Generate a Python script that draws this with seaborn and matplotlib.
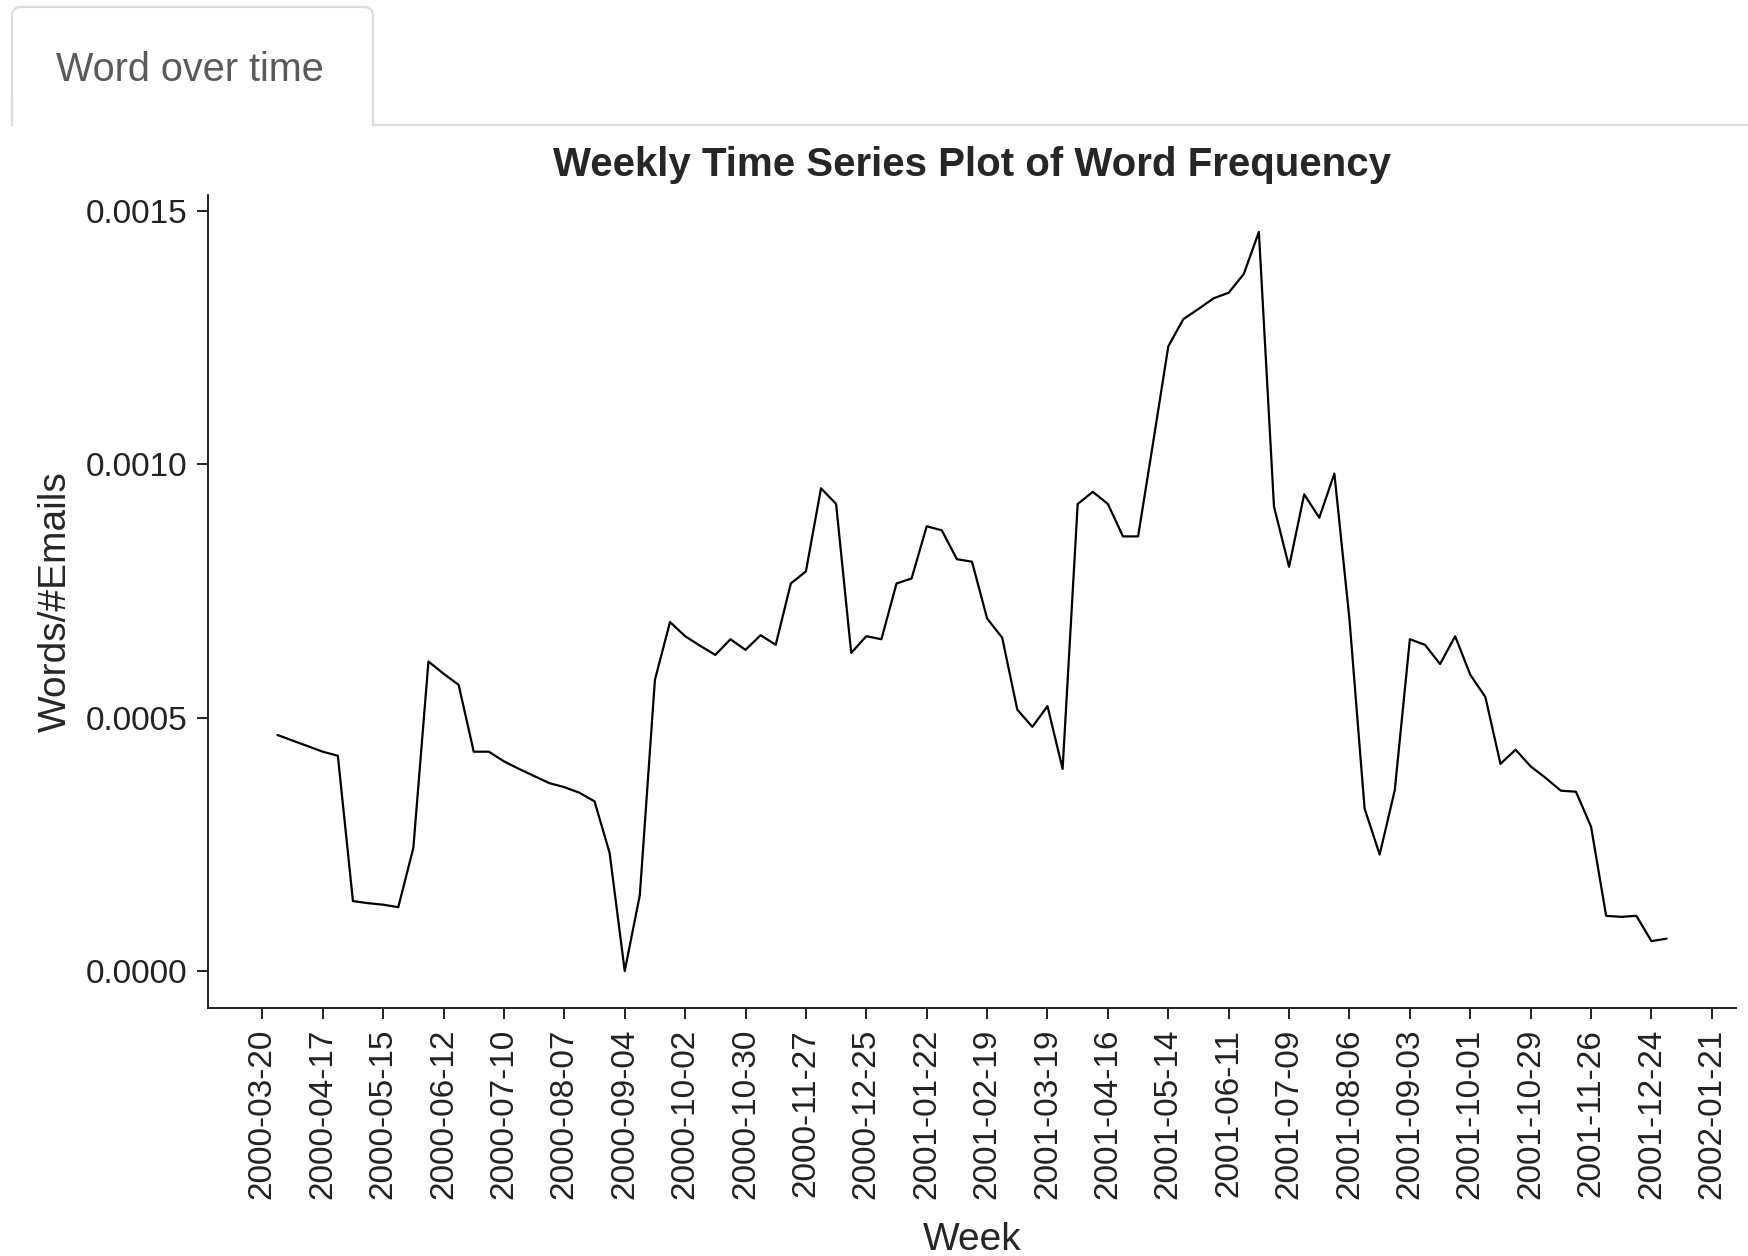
import pandas as pd
import matplotlib
matplotlib.use("Agg")
import matplotlib.pyplot as plt
import matplotlib.ticker as mticker
import matplotlib.patches as mpatches
import matplotlib.lines as mlines
from matplotlib.transforms import IdentityTransform
import seaborn as sns

# weekly word frequency, first week starting 2000-03-27
first_week = "2000-03-27"
freq = [
    0.000466, 0.000455, 0.000444, 0.000433, 0.000425, 0.000138, 0.000134, 0.000131,
    0.000126, 0.000243, 0.000611, 0.000587, 0.000565, 0.000433, 0.000433, 0.000414,
    0.000399, 0.000385, 0.000371, 0.000363, 0.000352, 0.000335, 0.000233, 0.000000,
    0.000150, 0.000575, 0.000689, 0.000661, 0.000642, 0.000624, 0.000655, 0.000634,
    0.000663, 0.000644, 0.000765, 0.000789, 0.000953, 0.000922, 0.000628, 0.000661,
    0.000655, 0.000765, 0.000775, 0.000878, 0.000870, 0.000813, 0.000808, 0.000696,
    0.000658, 0.000516, 0.000482, 0.000523, 0.000399, 0.000922, 0.000946, 0.000922,
    0.000858, 0.000858, 0.001044, 0.001233, 0.001287, 0.001307, 0.001328, 0.001339,
    0.001376, 0.001459, 0.000917, 0.000798, 0.000941, 0.000895, 0.000982, 0.000694,
    0.000321, 0.000230, 0.000357, 0.000655, 0.000644, 0.000606, 0.000661, 0.000585,
    0.000541, 0.000409, 0.000437, 0.000404, 0.000381, 0.000356, 0.000354, 0.000285,
    0.000109, 0.000107, 0.000109, 0.000059, 0.000064,
]

x_tick_labels = [
    "2000-03-20", "2000-04-17", "2000-05-15", "2000-06-12", "2000-07-10",
    "2000-08-07", "2000-09-04", "2000-10-02", "2000-10-30", "2000-11-27",
    "2000-12-25", "2001-01-22", "2001-02-19", "2001-03-19", "2001-04-16",
    "2001-05-14", "2001-06-11", "2001-07-09", "2001-08-06", "2001-09-03",
    "2001-10-01", "2001-10-29", "2001-11-26", "2001-12-24", "2002-01-21",
]
y_ticks = [0.0, 0.0005, 0.0010, 0.0015]

df = pd.DataFrame({
    "Week": pd.date_range(first_week, periods=len(freq), freq="7D"),
    "Freq": freq,
})

sns.set_style("ticks")
plt.rcParams["font.family"] = ["Liberation Sans", "DejaVu Sans"]

W, H = 1748, 1256
fig = plt.figure(figsize=(W / 100, H / 100), dpi=100)

# tab header
tab = mpatches.FancyBboxPatch((12, H - 150), 361, 143,
                              boxstyle="round,pad=0,rounding_size=9",
                              transform=IdentityTransform(), facecolor="white",
                              edgecolor="#dddddd", linewidth=1.6)
fig.patches.append(tab)
cover = mpatches.Rectangle((0, H - 170), 420, 44, transform=IdentityTransform(),
                           facecolor="white", edgecolor="none")
fig.patches.append(cover)
fig.lines.append(mlines.Line2D([12, 12], [H - 125, H - 100], transform=IdentityTransform(),
                               color="#dddddd", linewidth=1.6))
fig.lines.append(mlines.Line2D([373, 373], [H - 125, H - 100], transform=IdentityTransform(),
                               color="#dddddd", linewidth=1.6))
fig.lines.append(mlines.Line2D([373, W], [H - 125, H - 125], transform=IdentityTransform(),
                               color="#dddddd", linewidth=1.6))
fig.text(56 / W, 1 - 70 / H, "Word over time", fontsize=28.5, color="#5a5a5a",
         va="center", ha="left")

ax = fig.add_axes([208 / W, 1 - 1008 / H, (1736 - 208) / W, (1008 - 195) / H])
sns.lineplot(data=df, x="Week", y="Freq", color="black", linewidth=1.6, ax=ax)
ax.margins(x=0.05, y=0.05)

ax.set_xticks(pd.to_datetime(x_tick_labels))
ax.set_xticklabels(x_tick_labels, rotation=90)
ax.set_yticks(y_ticks)
ax.yaxis.set_major_formatter(mticker.FormatStrFormatter("%.4f"))
ax.tick_params(axis="both", labelsize=24, length=8, width=1.4, pad=7, colors="#222222")
sns.despine(ax=ax)
for s in ["left", "bottom"]:
    ax.spines[s].set_linewidth(1.4)
    ax.spines[s].set_color("#222222")

ax.set_title("Weekly Time Series Plot of Word Frequency", fontsize=29,
             fontweight="bold", pad=14)
ax.set_xlabel("Week", fontsize=28, labelpad=16)
ax.set_ylabel("Words/#Emails", fontsize=28, labelpad=8)

fig.savefig("out.png", dpi=100)
